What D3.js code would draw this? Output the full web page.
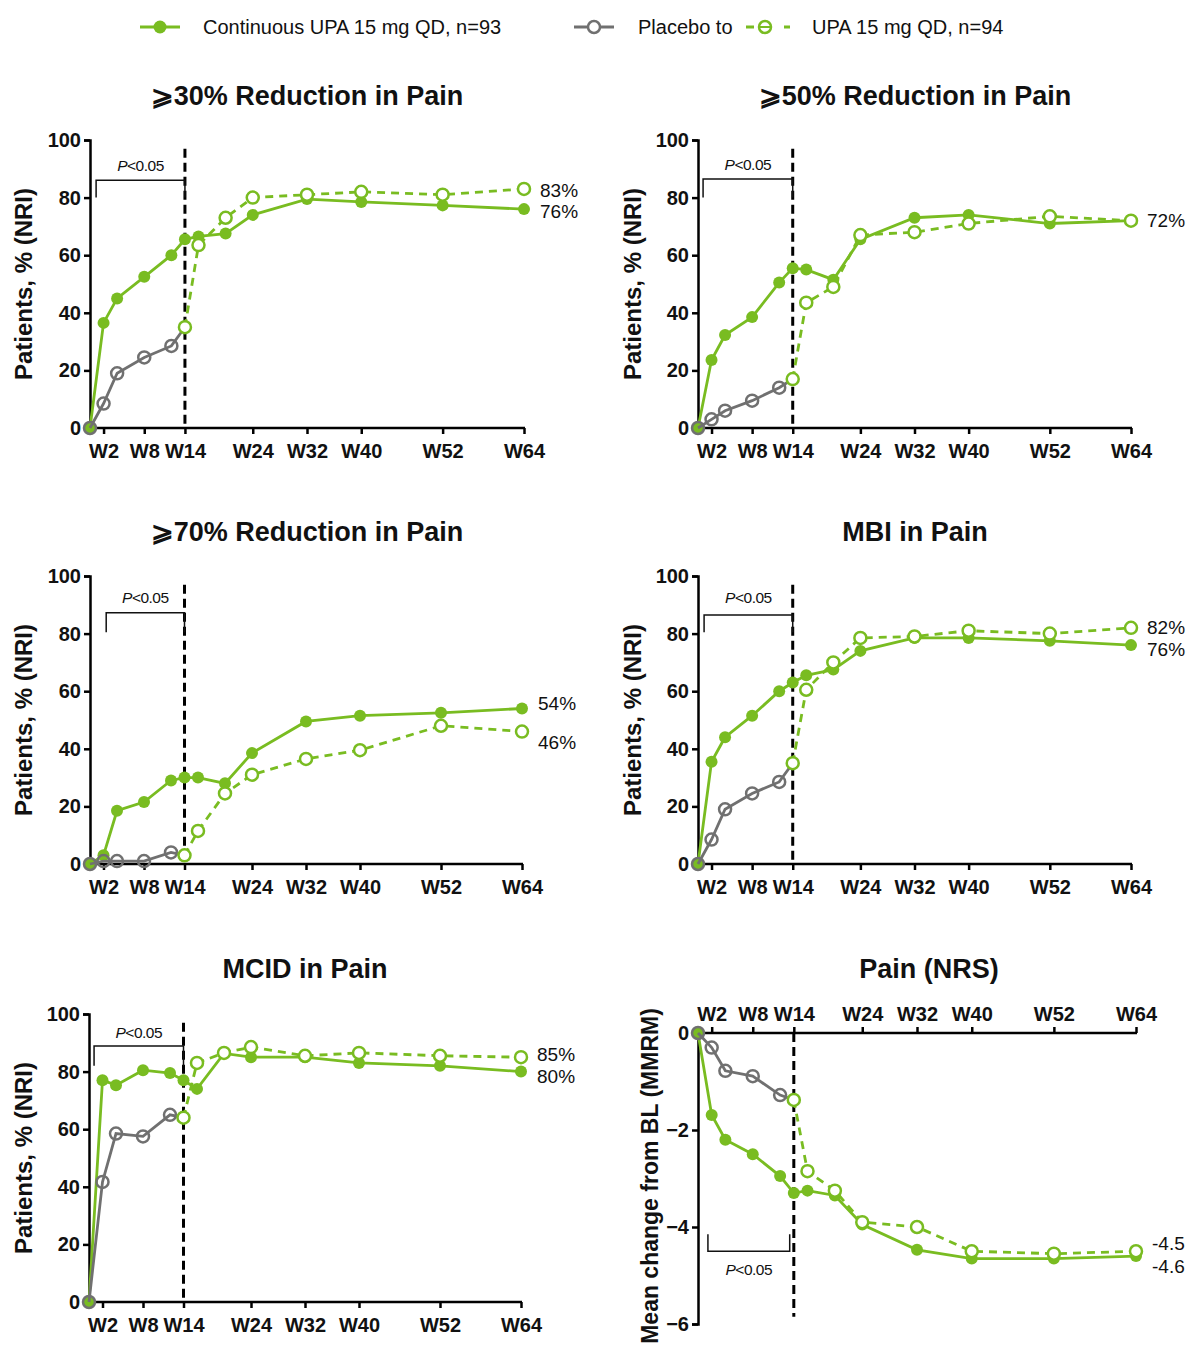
<!DOCTYPE html>
<html>
<head>
<meta charset="utf-8">
<script src="https://cdn.jsdelivr.net/npm/d3@7"></script>
<style>
  body { margin: 0; background: #fff; }
  svg { display: block; }
</style>
</head>
<body>
<svg id="chart" width="1188" height="1350"></svg>
<script>
// weeks
const weeksUpa = [0, 2, 4, 8, 12, 14, 16, 20, 24, 32, 40, 52, 64]
const weeksPbo = [0, 2, 4, 8, 12]
const weeksSwitch = [14, 16, 20, 24, 32, 40, 52, 64]
const xTickWeeks = [2, 8, 14, 24, 32, 40, 52, 64]
const xTickLabels = ['W2', 'W8', 'W14', 'W24', 'W32', 'W40', 'W52', 'W64']

// >=30% reduction
const upa30 = [0, 36.5, 45, 52.5, 60, 65.5, 66.5, 67.5, 74, 79.5, 78.5, 77.3, 76]
const pbo30 = [0, 8.5, 19, 24.5, 28.5]
const sw30 = [35, 63.5, 73, 80, 81, 82, 81, 83]

// >=50% reduction
const upa50 = [0, 23.6, 32.3, 38.5, 50.5, 55.5, 55, 51.5, 65.5, 73, 74, 71, 72]
const pbo50 = [0, 3, 6, 9.5, 14]
const sw50 = [17, 43.5, 49, 67, 68, 71, 73.5, 72]

// >=70% reduction
const upa70 = [0, 3, 18.5, 21.5, 29, 30, 30, 28, 38.5, 49.5, 51.5, 52.5, 54]
const pbo70 = [0, 1, 1, 1, 4]
const sw70 = [3, 11.5, 24.5, 31, 36.5, 39.5, 48, 46]

// MBI
const upaMbi = [0, 35.5, 44, 51.5, 60, 63, 65.5, 67.5, 74, 78.5, 78.5, 77.5, 76]
const pboMbi = [0, 8.5, 19, 24.5, 28.5]
const swMbi = [35, 60.5, 70, 78.5, 79, 81, 80, 82]

// MCID
const upaMcid = [0, 77, 75.3, 80.5, 79.5, 77, 74, 86.3, 85, 85, 83, 82, 80]
const pboMcid = [0, 41.7, 58.5, 57.5, 65]
const swMcid = [64, 83, 86.5, 88.5, 85.5, 86.5, 85.5, 85]

// Pain NRS, mean change
const upaNrs = [0, -1.69, -2.2, -2.5, -2.95, -3.3, -3.25, -3.35, -3.95, -4.47, -4.65, -4.65, -4.6]
const pboNrs = [0, -0.3, -0.78, -0.89, -1.28]
const swNrs = [-1.38, -2.85, -3.25, -3.9, -4.0, -4.5, -4.55, -4.5]

const pctTicks = [0, 20, 40, 60, 80, 100]
const nrsTicks = [0, -2, -4, -6]

const green = '#79bc21'
const grey = '#707070'
const font = "Arial, 'Liberation Sans', Helvetica, sans-serif"

const panels = [
  { title: '\u2A7E30% Reduction in Pain', upa: upa30, pbo: pbo30, sw: sw30, ends: ['83%', '76%'], endDy: [1, 2],
    x0: 90, x1: 524, top: 140, bot: 428, tx: 307, ty: 105, lx: 24, bracket: [0.9, 14, 86, 80, 91] },
  { title: '\u2A7E50% Reduction in Pain', upa: upa50, pbo: pbo50, sw: sw50, ends: [null, '72%'], endDy: [0, 0],
    x0: 698, x1: 1131, top: 140, bot: 428, tx: 915, ty: 105, lx: 633, bracket: [0.75, 14, 86.5, 80, 91.5] },
  { title: '\u2A7E70% Reduction in Pain', upa: upa70, pbo: pbo70, sw: sw70, ends: ['46%', '54%'], endDy: [11, -5],
    x0: 90, x1: 522, top: 576, bot: 864, tx: 307, ty: 541, lx: 24, bracket: [2.4, 14, 87.2, 80.5, 92.5] },
  { title: 'MBI in Pain', upa: upaMbi, pbo: pboMbi, sw: swMbi, ends: ['82%', '76%'], endDy: [0, 4],
    x0: 698, x1: 1131, top: 576, bot: 864, tx: 915, ty: 541, lx: 633, bracket: [0.9, 14, 86.5, 80.5, 92.5] },
  { title: 'MCID in Pain', upa: upaMcid, pbo: pboMcid, sw: swMcid, ends: ['85%', '80%'], endDy: [-3, 5],
    x0: 89, x1: 521, top: 1014, bot: 1302, tx: 305, ty: 978, lx: 24, bracket: [0.75, 14, 88.9, 82, 93.5] },
  { title: 'Pain (NRS)', upa: upaNrs, pbo: pboNrs, sw: swNrs, ends: ['-4.5', '-4.6'], endDy: [-8, 10],
    x0: 698, x1: 1136, top: 1324, bot: 1033, tx: 929, ty: 978, lx: 650, bracket: [1.45, 13.4, -4.5, -4.15, -4.88], nrs: true }
]

const svg = d3.select('#chart')

// legend
const legend = svg.append('g').attr('font-family', font).attr('font-size', 20).attr('fill', '#111')
legend.append('line').attr('x1', 140).attr('x2', 180).attr('y1', 27).attr('y2', 27)
  .attr('stroke', green).attr('stroke-width', 3)
legend.append('circle').attr('cx', 160).attr('cy', 27).attr('r', 6.5).attr('fill', green)
legend.append('text').attr('x', 203).attr('y', 34).text('Continuous UPA 15 mg QD, n=93')
legend.append('line').attr('x1', 574).attr('x2', 614).attr('y1', 27).attr('y2', 27)
  .attr('stroke', grey).attr('stroke-width', 3)
legend.append('circle').attr('cx', 594).attr('cy', 27).attr('r', 6).attr('fill', '#fff')
  .attr('stroke', grey).attr('stroke-width', 2.5)
legend.append('text').attr('x', 638).attr('y', 34).text('Placebo to')
legend.append('line').attr('x1', 746).attr('x2', 790).attr('y1', 27).attr('y2', 27)
  .attr('stroke', green).attr('stroke-width', 3).attr('stroke-dasharray', '8,30')
legend.append('circle').attr('cx', 765).attr('cy', 27).attr('r', 6).attr('fill', '#fff')
  .attr('stroke', green).attr('stroke-width', 2.5)
legend.append('line').attr('x1', 760).attr('x2', 770).attr('y1', 27).attr('y2', 27)
  .attr('stroke', green).attr('stroke-width', 2)
legend.append('text').attr('x', 812).attr('y', 34).text('UPA 15 mg QD, n=94')

panels.forEach(p => {
  const g = svg.append('g')
  const x = d3.scaleLinear().domain([0, 64]).range([p.x0, p.x1])
  const y = p.nrs
    ? d3.scaleLinear().domain([-6, 0]).range([p.top, p.bot])
    : d3.scaleLinear().domain([0, 100]).range([p.bot, p.top])

  // title
  g.append('text').attr('x', p.tx).attr('y', p.ty).attr('text-anchor', 'middle')
    .attr('font-family', font).attr('font-weight', 'bold').attr('font-size', 27)
    .attr('fill', '#111').text(p.title)

  // axes
  const xAxis = (p.nrs ? d3.axisTop(x) : d3.axisBottom(x))
    .tickValues(xTickWeeks).tickFormat((d, i) => xTickLabels[i]).tickSizeOuter(0).tickSize(6).tickPadding(p.nrs ? 6 : 10)
  const yAxis = d3.axisLeft(y).tickValues(p.nrs ? nrsTicks : pctTicks)
    .tickFormat(d3.format('d')).tickSizeOuter(0).tickSize(6).tickPadding(3)

  const xa = g.append('g').attr('transform', `translate(0,${y(0)})`).call(xAxis)
  const ya = g.append('g').attr('transform', `translate(${p.x0},0)`).call(yAxis)
  ;[xa, ya].forEach(a => {
    a.selectAll('path, line').attr('stroke', '#000').attr('stroke-width', 2.5)
    a.selectAll('text').attr('font-family', font).attr('font-weight', 'bold')
      .attr('font-size', 20).attr('fill', '#111')
  })
  // extend x axis line to cover the y-axis corner
  xa.select('.domain').attr('d', `M${p.x0 - 1},0H${p.x1 + 1}`)

  // y label
  const ly = p.nrs ? 1176 : (p.top + p.bot) / 2
  g.append('text').attr('transform', `translate(${p.lx},${ly}) rotate(-90)`)
    .attr('text-anchor', 'middle').attr('dy', '0.35em')
    .attr('font-family', font).attr('font-weight', 'bold').attr('font-size', p.nrs ? 23 : 24)
    .attr('fill', '#111').text(p.nrs ? 'Mean change from BL (MMRM)' : 'Patients, % (NRI)')

  // dashed switch line at W14
  const dTop = p.nrs ? y(0) : y(97)
  const dBot = p.nrs ? y(-5.85) : y(0)
  g.append('line').attr('x1', x(14)).attr('x2', x(14)).attr('y1', dTop).attr('y2', dBot)
    .attr('stroke', '#000').attr('stroke-width', 3).attr('stroke-dasharray', '9,5')

  // P<0.05 bracket
  const [b0, b1, bl, be, bt] = p.bracket
  g.append('path')
    .attr('d', `M${x(b0)},${y(be)}V${y(bl)}H${x(b1)}V${y(be)}`)
    .attr('fill', 'none').attr('stroke', '#111').attr('stroke-width', 1.5)
  const pt = g.append('text').attr('x', (x(b0) + x(b1)) / 2).attr('y', y(bt)).attr('dy', '0.35em')
    .attr('text-anchor', 'middle').attr('font-family', font).attr('font-size', 15.5)
    .attr('letter-spacing', '-0.5').attr('fill', '#111')
  pt.append('tspan').attr('font-style', 'italic').text('P')
  pt.append('tspan').text('<0.05')

  const line = d3.line().x(d => x(d[0])).y(d => y(d[1]))
  const upaPts = weeksUpa.map((w, i) => [w, p.upa[i]])
  const pboPts = weeksPbo.map((w, i) => [w, p.pbo[i]]).concat([[14, p.sw[0]]])
  const swPts = weeksSwitch.map((w, i) => [w, p.sw[i]])

  // continuous UPA
  g.append('path').datum(upaPts).attr('d', line).attr('fill', 'none')
    .attr('stroke', green).attr('stroke-width', 2.8)
  g.selectAll('.upa').data(upaPts).enter().append('circle')
    .attr('cx', d => x(d[0])).attr('cy', d => y(d[1])).attr('r', 6).attr('fill', green)

  // placebo
  g.append('path').datum(pboPts).attr('d', line).attr('fill', 'none')
    .attr('stroke', grey).attr('stroke-width', 2.8)
  g.selectAll('.pbo').data(pboPts.slice(0, weeksPbo.length)).enter().append('circle')
    .attr('cx', d => x(d[0])).attr('cy', d => y(d[1])).attr('r', 6)
    .attr('fill', 'none').attr('stroke', grey).attr('stroke-width', 2.5)

  // placebo switched to UPA
  g.append('path').datum(swPts).attr('d', line).attr('fill', 'none')
    .attr('stroke', green).attr('stroke-width', 2.8).attr('stroke-dasharray', '8,6')
  g.selectAll('.sw').data(swPts).enter().append('circle')
    .attr('cx', d => x(d[0])).attr('cy', d => y(d[1])).attr('r', 6)
    .attr('fill', '#fff').attr('stroke', green).attr('stroke-width', 2.5)

  // end labels: first for switch series, second for continuous
  const endVals = [p.sw[p.sw.length - 1], p.upa[p.upa.length - 1]]
  p.ends.forEach((t, i) => {
    if (!t) return
    g.append('text').attr('x', p.x1 + 16).attr('y', y(endVals[i]) + p.endDy[i]).attr('dy', '0.35em')
      .attr('font-family', font).attr('font-size', 19).attr('fill', '#111').text(t)
  })
})
</script>
</body>
</html>
